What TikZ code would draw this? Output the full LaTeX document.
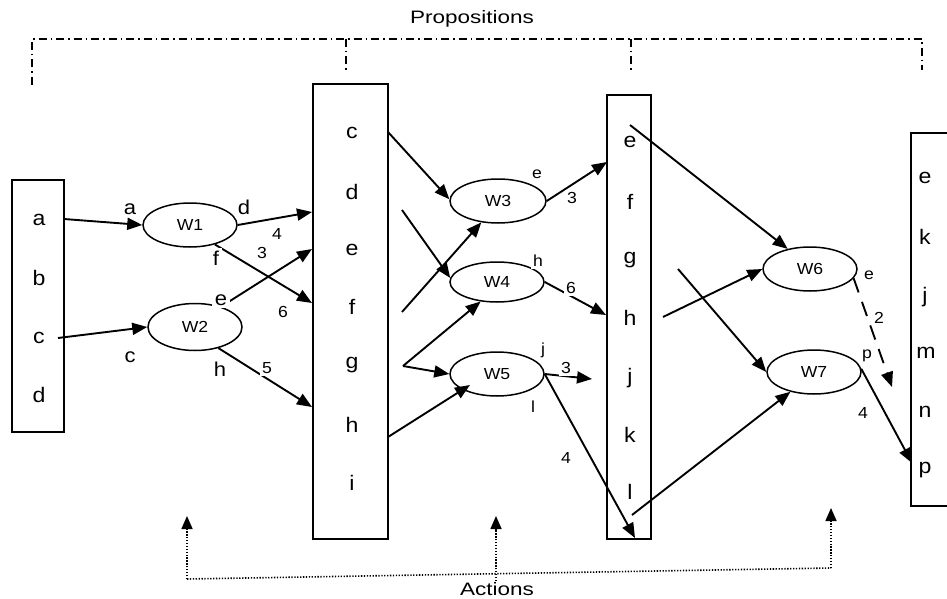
\documentclass[tikz,border=0pt]{standalone}
\usepackage{fontspec}
\setmainfont{Liberation Sans}[FakeStretch=1.1]
\newfontfamily\widefont{Liberation Sans}[FakeStretch=1.25]
\usetikzlibrary{arrows.meta,shapes.geometric,calc}

\tikzset{
  box/.style={draw, line width=1.7pt, inner sep=0pt},
  letter/.style={inner sep=0pt, font=\fontsize{21}{21}\selectfont},
  wnode/.style={draw, ellipse, line width=1.5pt, minimum width=94pt,
    minimum height=44pt, inner sep=0pt, font=\fontsize{16}{16}\selectfont},
  lab/.style={fill=white, inner sep=2.5pt, font=\fontsize{20}{20}\selectfont},
  sml/.style={fill=white, inner sep=2.5pt, font=\fontsize{16}{16}\selectfont},
  link/.style={line width=1.9pt},
  arr/.style={link, -{Triangle[length=15pt,width=12pt]}},
  props/.style={line width=1.3pt, dash pattern=on 8pt off 4pt on 1.5pt off 4pt},
  acts/.style={line width=1.6pt, dash pattern=on 1.3pt off 1.6pt},
  actarr/.style={acts, -{Triangle[length=13pt,width=11pt]}},
  title/.style={inner sep=0pt, font=\widefont\fontsize{18}{18}\selectfont}
}

\begin{document}
\begin{tikzpicture}[x=1pt,y=-1pt]
\useasboundingbox (0,0) rectangle (947,599);
\clip (0,0) rectangle (947,599);

% ---------- proposition columns ----------
\node[box, minimum width=52pt, minimum height=252pt] (L) at (38,306) {};
\node[letter] (La) at (39,220) {a};
\node[letter] (Lb) at (39,278) {b};
\node[letter] (Lc) at (39,338) {c};
\node[letter] (Ld) at (39,395) {d};

\node[box, minimum width=75pt, minimum height=455pt] (M) at (350.5,311.5) {};
\node[letter] (Mc) at (352,133) {c};
\node[letter] (Md) at (352,192) {d};
\node[letter] (Me) at (352,250) {e};
\node[letter] (Mf) at (352,307) {f};
\node[letter] (Mg) at (352,365) {g};
\node[letter] (Mh) at (352,425) {h};
\node[letter] (Mi) at (352,483) {i};

\node[box, minimum width=44pt, minimum height=444pt] (N) at (629,317) {};
\node[letter] (Ne) at (630,142) {e};
\node[letter] (Nf) at (630,202) {f};
\node[letter] (Ng) at (630,260) {g};
\node[letter] (Nh) at (630,318) {h};
\node[letter] (Nj) at (630,378) {j};
\node[letter] (Nk) at (630,435) {k};
\node[letter] (Nl) at (630,492) {l};

\node[box, minimum width=52pt, minimum height=373pt] (R) at (937,319.5) {};
\node[letter] (Re) at (925,178) {e};
\node[letter] (Rk) at (925,237) {k};
\node[letter] (Rj) at (925,297) {j};
\node[letter] (Rm) at (926,353) {m};
\node[letter] (Rn) at (925,412) {n};
\node[letter] (Rp) at (925,470) {p};

% ---------- actions ----------
\node[wnode] (W1) at (190,225) {W1};
\node[wnode, minimum height=47pt] (W2) at (195,327) {W2};
\node[wnode, minimum width=96pt] (W3) at (498,201) {W3};
\node[wnode, minimum height=40pt] (W4) at (497,282) {W4};
\node[wnode] (W5) at (497,374) {W5};
\node[wnode] (W6) at (810,269) {W6};
\node[wnode] (W7) at (814,372) {W7};

% ---------- connector end points on the columns ----------
\coordinate (La0) at (64,219);
\coordinate (Lc0) at (58,338);
\coordinate (Md1) at (312,212);
\coordinate (Me1) at (312,249);
\coordinate (Mf1) at (312,303);
\coordinate (Mh1) at (312,407);
\coordinate (Mc0) at (388,132);
\coordinate (Md0) at (402,210);
\coordinate (Mf0) at (402,312);
\coordinate (Mg0) at (403,366);
\coordinate (Mh0) at (388,437);
\coordinate (Ne1) at (607,162);
\coordinate (Nh1) at (606,315);
\coordinate (Nj1) at (592,379);
\coordinate (Nl1) at (635,538);
\coordinate (Ne0) at (630,125);
\coordinate (Ng0) at (678,269);
\coordinate (Nh0) at (663,317);
\coordinate (Nl0) at (632,515);
\coordinate (Rn1) at (892,387);
\coordinate (Rp1) at (912,463);

% ---------- connectors ----------
\draw[arr] (La0) -- (W1.west);
\draw[arr] (Lc0) -- (W2.west);
\draw[arr] (W1.east) -- (Md1);
\draw[arr] (W1.-38) -- (Mf1);
\draw[arr] (W2.38) -- (Me1);
\draw[arr] (W2.-42) -- (Mh1);

\draw[arr] (Mc0) -- (W3.178);
\draw[arr] (Md0) -- (W4.175);
\draw[arr] (Mf0) -- (W3.-128);
\draw[arr] (Mg0) -- (W4.-130);
\draw[arr] (Mg0) -- (W5.west);
\draw[arr] (Mh0) -- ($(W5.center)+(-27,11)$);

\draw[arr] (W3.east) -- (Ne1);
\draw[arr] (W4.east) -- (Nh1);
\draw[arr] (W5.east) -- (Nj1);
\draw[arr] (W5.east) -- (Nl1);

\draw[arr] (Ne0) -- (W6.138);
\draw[arr] (Nh0) -- (W6.west);
\draw[arr] (Ng0) -- (W7.west);
\draw[arr] (Nl0) -- (W7.-140);
\draw[arr, dash pattern=on 15pt off 10pt] (W6.-12) -- (Rn1);
\draw[arr] (W7.4) -- (Rp1);

% ---------- connector labels ----------
\node[lab] (ta) at (130,209) {a};
\node[lab] (td) at (244,207) {d};
\node[sml] (t4a) at (277,234) {4};
\node[lab] (tf) at (216,258) {f};
\node[sml] (t3a) at (262,253) {3};
\node[lab] (te) at (221,300) {e};
\node[sml] (t6a) at (283,312) {6};
\node[lab] (tc) at (130,357) {c};
\node[lab] (th) at (220,369) {h};
\node[sml] (t5) at (267,368) {5};

\node[sml] (te3) at (537,174) {e};
\node[sml] (t3b) at (572,198) {3};
\node[sml] (th4) at (538,261) {h};
\node[sml] (t6b) at (571,288) {6};
\node[sml] (tj5) at (543,350) {j};
\node[sml] (t3c) at (566,368) {3};
\node[sml] (tl5) at (533,407) {l};
\node[sml] (t4b) at (566,458) {4};

\node[sml] (te6) at (869,275) {e};
\node[sml] (t2) at (879,318) {2};
\node[sml] (tp7) at (867,356) {p};
\node[sml] (t4c) at (863,413) {4};

% ---------- group markers ----------
\node[title] (prop) at (472,19) {Propositions};
\coordinate (P0) at (32,85);
\coordinate (P1) at (32,39);
\coordinate (P2) at (922,39);
\coordinate (P3) at (922,70);
\coordinate (Q1) at (346,39);
\coordinate (Q2) at (346,70);
\coordinate (Q3) at (631,39);
\coordinate (Q4) at (631,70);
\draw[props] (P0) -- (P1) -- (P2) -- (P3);
\draw[props] (Q1) -- (Q2);
\draw[props] (Q3) -- (Q4);

\node[title] (act) at (497,589) {Actions};
\coordinate (A0) at (187,579);
\coordinate (A1) at (187,516);
\coordinate (A2) at (831,568);
\coordinate (A3) at (831,508);
\coordinate (A4) at (496,581);
\coordinate (A5) at (496,516);
\draw[acts] (A0) -- (A2);
\draw[actarr] (A0) -- (A1);
\draw[actarr] (A2) -- (A3);
\draw[actarr] (A4) -- (A5);
\end{tikzpicture}
\end{document}
